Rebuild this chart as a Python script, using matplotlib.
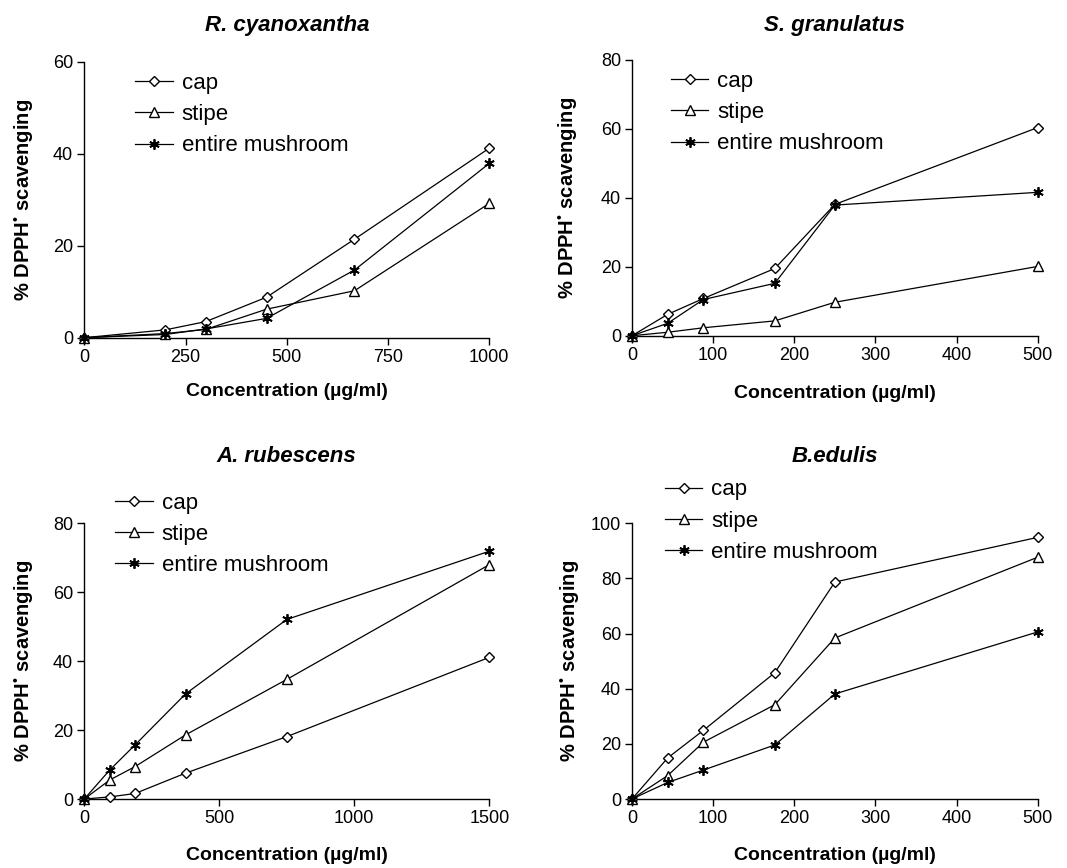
import matplotlib
matplotlib.use("Agg")
import matplotlib.pyplot as plt

plt.rcParams['font.family'] = ['Liberation Sans', 'DejaVu Sans']
plt.rcParams['mathtext.fontset'] = 'custom'
plt.rcParams['mathtext.rm'] = 'Liberation Sans'
plt.rcParams['mathtext.bf'] = 'Liberation Sans:bold'
plt.rcParams['mathtext.it'] = 'Liberation Sans:italic'

# ---------------- data ----------------
titles = ["R. cyanoxantha", "S. granulatus", "A. rubescens", "B.edulis"]
series_names = ["cap", "stipe", "entire mushroom"]

x_rc = [0, 200, 300, 450, 667, 1000]
rc_cap = [0, 1.7, 3.5, 8.8, 21.4, 41.2]
rc_stipe = [0, 0.9, 1.8, 6.2, 10.2, 29.2]
rc_entire = [0, 0.7, 1.9, 4.2, 14.7, 37.9]

x_sg = [0, 44, 88, 176, 250, 500]
sg_cap = [0, 6.2, 10.8, 19.5, 38.1, 60.4]
sg_stipe = [0, 1.0, 2.3, 4.3, 9.7, 20.1]
sg_entire = [0, 3.6, 10.5, 15.2, 37.9, 41.6]

x_ar = [0, 94, 188, 375, 750, 1500]
ar_cap = [0, 0.6, 1.6, 7.5, 18.1, 41.1]
ar_stipe = [0, 5.5, 9.4, 18.6, 34.7, 68.0]
ar_entire = [0, 8.4, 15.7, 30.5, 52.1, 71.9]

x_be = [0, 44, 88, 176, 250, 500]
be_cap = [0, 14.9, 24.9, 45.8, 78.7, 94.9]
be_stipe = [0, 8.5, 20.6, 34.2, 58.4, 87.7]
be_entire = [0, 6.0, 10.5, 19.6, 38.1, 60.6]

xticks_rc = [0, 250, 500, 750, 1000]
xticks_sg = [0, 100, 200, 300, 400, 500]
xticks_ar = [0, 500, 1000, 1500]
xticks_be = [0, 100, 200, 300, 400, 500]
yticks_rc = [0, 20, 40, 60]
yticks_sg = [0, 20, 40, 60, 80]
yticks_ar = [0, 20, 40, 60, 80]
yticks_be = [0, 20, 40, 60, 80, 100]

xlabel = "Concentration (\u00b5g/ml)"
ylabel = "% DPPH$^{\u2022}$ scavenging"

# ---------------- layout ----------------
W, H = 1067, 868
fig = plt.figure(figsize=(W / 100, H / 100), dpi=100)

def fx(px):
    return px / W

def fy(py):
    return 1 - py / H

panels = [
    dict(rect=(84.3, 61.7, 489.3, 337.7), x=x_rc, ys=[rc_cap, rc_stipe, rc_entire],
         xt=xticks_rc, yt=yticks_rc, title_y=26, leg=(135, 87), ylc=-0.151, xlc=-0.196),
    dict(rect=(632, 60, 1037.7, 335.7), x=x_sg, ys=[sg_cap, sg_stipe, sg_entire],
         xt=xticks_sg, yt=yticks_sg, title_y=26, leg=(670.7, 85), ylc=-0.158, xlc=-0.209),
    dict(rect=(84.3, 523.3, 489.3, 799), x=x_ar, ys=[ar_cap, ar_stipe, ar_entire],
         xt=xticks_ar, yt=yticks_ar, title_y=456.5, leg=(115, 506.7), ylc=-0.151, xlc=-0.205),
    dict(rect=(632, 523.3, 1037.7, 799), x=x_be, ys=[be_cap, be_stipe, be_entire],
         xt=xticks_be, yt=yticks_be, title_y=456.5, leg=(664.7, 493.3), ylc=-0.154, xlc=-0.205),
]

markers = [
    dict(marker='D', markersize=5, markerfacecolor='white'),
    dict(marker='^', markersize=6.5, markerfacecolor='white'),
    dict(marker=(6, 2, 0), markersize=7.5, markerfacecolor='black', markeredgewidth=1.3),
]

for i, p in enumerate(panels):
    l, t, r, b = p['rect']
    ax = fig.add_axes([fx(l), fy(b), fx(r - l), (b - t) / H])
    for ys, m, name in zip(p['ys'], markers, series_names):
        ax.plot(p['x'], ys, color='black', lw=0.9, markeredgecolor='black',
                clip_on=False, zorder=3, label=name, **m)
    ax.set_xlim(p['xt'][0], p['xt'][-1])
    ax.set_ylim(p['yt'][0], p['yt'][-1])
    ax.set_xticks(p['xt'])
    ax.set_yticks(p['yt'])
    for s in ['top', 'right']:
        ax.spines[s].set_visible(False)
    for s in ['left', 'bottom']:
        ax.spines[s].set_linewidth(1.0)
    ax.tick_params(direction='out', length=5, width=1.0, labelsize=13, pad=3)
    ax.set_xlabel(xlabel, fontsize=14, fontweight='bold')
    ax.set_ylabel(ylabel, fontsize=14.5, fontweight='bold')
    ax.xaxis.set_label_coords(0.5, p['xlc'])
    ax.xaxis.label.set_va('center')
    ax.yaxis.set_label_coords(p['ylc'], 0.5)
    ax.yaxis.label.set_va('center')
    fig.text(fx((l + r) / 2), fy(p['title_y']), titles[i], fontsize=16,
             fontweight='bold', fontstyle='italic', ha='center', va='center')
    lx, ly = p['leg']
    ax.legend(loc='upper left', bbox_to_anchor=(fx(lx), fy(ly - 14)),
              bbox_transform=fig.transFigure, frameon=False, fontsize=16,
              handlelength=1.7, handletextpad=0.4, labelspacing=0.46,
              borderaxespad=0, borderpad=0)

fig.savefig("out.png", dpi=100)
